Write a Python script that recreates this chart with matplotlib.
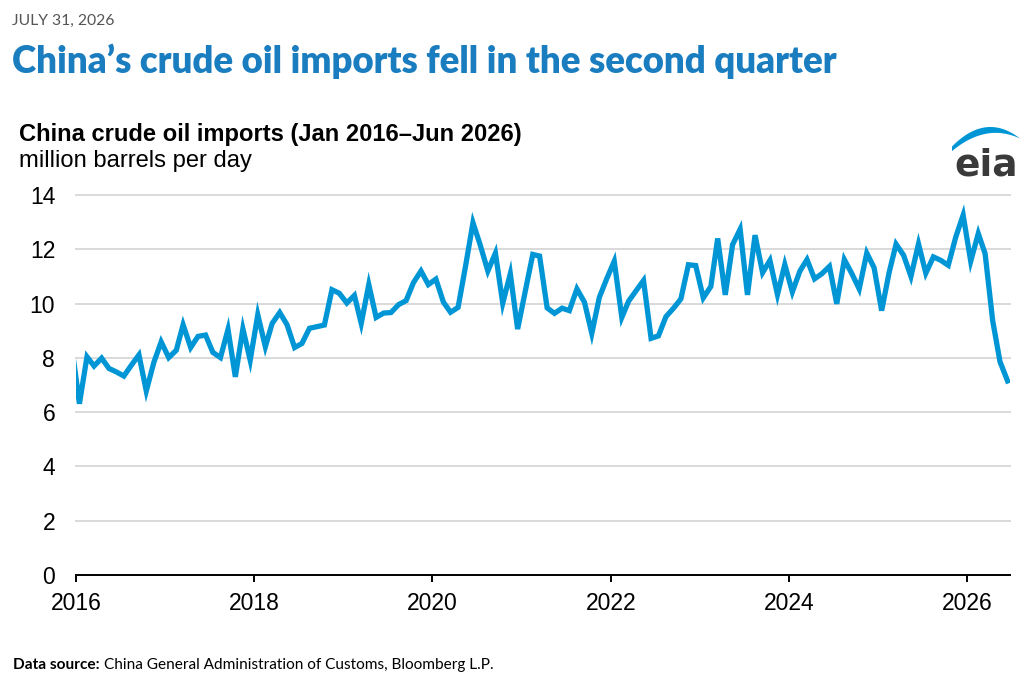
import numpy as np
import pandas as pd
import matplotlib
matplotlib.use("Agg")
import matplotlib.pyplot as plt
import matplotlib.dates as mdates
from matplotlib.patches import Polygon

# Monthly imports, million b/d (Dec 2015 point is only there so the line enters from the axis)
dec_2015 = [8.4]
y2016 = [6.31, 8.04, 7.70, 7.99, 7.61, 7.48, 7.33, 7.73, 8.11, 6.78, 7.83, 8.59]
y2017 = [8.01, 8.28, 9.22, 8.38, 8.79, 8.84, 8.20, 8.01, 9.05, 7.30, 9.07, 7.91]
y2018 = [9.59, 8.41, 9.27, 9.67, 9.22, 8.38, 8.53, 9.09, 9.15, 9.21, 10.51, 10.38]
y2019 = [10.02, 10.30, 9.27, 10.70, 9.49, 9.65, 9.67, 9.96, 10.11, 10.77, 11.20, 10.70]
y2020 = [10.90, 10.05, 9.68, 9.86, 11.35, 12.98, 12.15, 11.20, 11.86, 10.01, 11.10, 9.06]
y2021 = [10.44, 11.81, 11.75, 9.84, 9.64, 9.83, 9.74, 10.54, 10.05, 8.90, 10.23, 10.91]
y2022 = [11.56, 9.49, 10.09, 10.48, 10.85, 8.72, 8.81, 9.52, 9.83, 10.17, 11.43, 11.40]
y2023 = [10.21, 10.63, 12.40, 10.32, 12.17, 12.74, 10.32, 12.52, 11.14, 11.59, 10.33, 11.44]
y2024 = [10.43, 11.20, 11.62, 10.91, 11.10, 11.37, 9.99, 11.62, 11.10, 10.54, 11.86, 11.32]
y2025 = [9.74, 11.16, 12.19, 11.78, 11.00, 12.20, 11.12, 11.72, 11.59, 11.41, 12.46, 13.26]
y2026 = [11.56, 12.58, 11.84, 9.37, 7.86, 7.15]

imports = (dec_2015 + y2016 + y2017 + y2018 + y2019 + y2020 + y2021 + y2022
           + y2023 + y2024 + y2025 + y2026)
months = pd.date_range("2015-12-01", periods=len(imports), freq="MS") + pd.Timedelta(days=14)

yticks = [0, 2, 4, 6, 8, 10, 12, 14]
xtick_years = [2016, 2018, 2020, 2022, 2024, 2026]

line_color = "#0096d6"
title_color = "#1a7dbf"
W, H = 1032, 691

fig = plt.figure(figsize=(W / 100, H / 100), dpi=100)
ax = fig.add_axes([76 / W, 1 - 575 / H, (1010 - 76) / W, (575 - 195) / H])

ax.plot(months, imports, color=line_color, linewidth=3.8, solid_joinstyle="miter", zorder=3)

ax.set_ylim(0, 14)
ax.set_xlim(pd.Timestamp("2016-01-01"), pd.Timestamp("2026-06-25"))
ax.set_yticks(yticks)
ax.set_xticks([pd.Timestamp(f"{y}-01-01") for y in xtick_years])
ax.xaxis.set_major_formatter(mdates.DateFormatter("%Y"))

ax.grid(axis="y", color="#d9d9d9", linewidth=1.4, zorder=0)
ax.set_axisbelow(True)
for s in ["top", "right", "left"]:
    ax.spines[s].set_visible(False)
ax.spines["bottom"].set_color("black")
ax.spines["bottom"].set_linewidth(1.4)
ax.spines["bottom"].set_zorder(4)
ax.tick_params(axis="y", length=0, pad=15, labelsize=16.5)
ax.tick_params(axis="x", length=5, width=1.4, pad=7, labelsize=16.5)
for lbl in ax.get_xticklabels() + ax.get_yticklabels():
    lbl.set_fontfamily("Liberation Sans")
for gl in ax.get_ygridlines():
    gl.set_clip_on(False)

# header
fig.text(12 / W, 1 - 21 / H, "JULY 31, 2026", fontsize=11.3, color="#555555",
         family="Lato", va="center", ha="left")
fig.text(12 / W, 1 - 61 / H, "China\u2019s crude oil imports fell in the second quarter",
         fontsize=26.4, color=title_color, family="Lato", fontweight="heavy",
         va="center", ha="left")
fig.text(19 / W, 1 - 134 / H, "China crude oil imports (Jan 2016\u2013Jun 2026)",
         fontsize=17.1, family="Liberation Sans", fontweight="bold", va="center", ha="left")
fig.text(19 / W, 1 - 161 / H, "million barrels per day",
         fontsize=17.1, family="Liberation Sans", va="center", ha="left")

# eia logo
fig.text(986 / W, 1 - 176 / H, "eia", fontsize=27, color="#3a3a3a",
         family="DejaVu Sans", fontweight="bold", ha="center", va="baseline")
xs = np.linspace(952, 1020, 50)
up = np.polyval(np.polyfit([952, 990, 1020], [146.5, 127, 138.5], 2), xs)
lo = np.polyval(np.polyfit([954, 992, 1020], [149.5, 133, 138.5], 2), xs)
lo = np.maximum(lo, up)
pts = np.vstack([np.column_stack([xs / W, 1 - up / H]),
                 np.column_stack([xs[::-1] / W, 1 - lo[::-1] / H])])
fig.patches.append(Polygon(pts, closed=True, transform=fig.transFigure,
                           color=line_color, lw=0))

# footer
src = fig.text(13 / W, 1 - 665 / H, "Data source:", fontsize=11.1, family="Lato",
               fontweight="bold", va="center", ha="left")
fig.canvas.draw()
bb = src.get_window_extent()
fig.text((bb.x1 + 4) / W, 1 - 665 / H,
         "China General Administration of Customs, Bloomberg L.P.",
         fontsize=11.1, family="Lato", va="center", ha="left")

fig.savefig("out.png", dpi=100)
